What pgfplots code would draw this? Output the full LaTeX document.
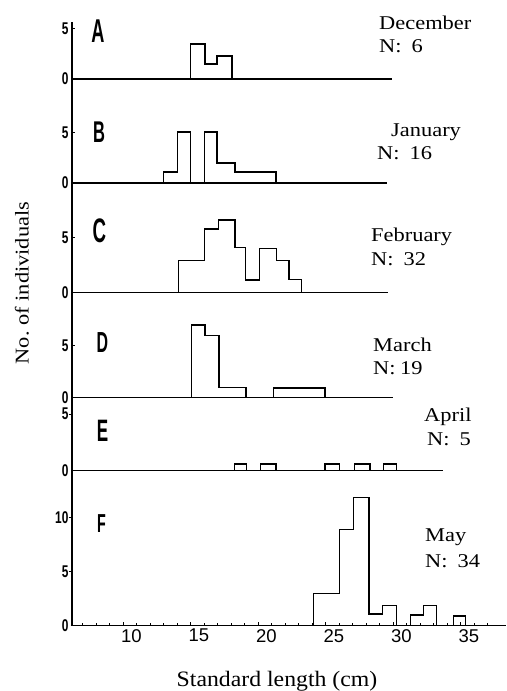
\documentclass[border=0pt]{standalone}
\usepackage{fontspec}
\setmainfont{Liberation Serif}
\newfontfamily\sansf{Liberation Sans}
\usepackage{pgfplots}
\pgfplotsset{compat=1.18}
\newcommand\mon[1]{\fontsize{19.5}{19.5}\selectfont\scalebox{1.15}[1]{#1}}
\newcommand\plet[2]{\fontsize{#2}{#2}\sansf\bfseries\scalebox{0.55}[1]{#1}}
\pgfplotsset{
  panel/.style={x=13.5pt, xmin=6.1, xmax=38.36, scale only axis, anchor=south west,
    axis lines=left, axis line style={-, line width=1.3pt, black},
    x axis line style={draw=none}, y axis line style={draw=none}, xtick=\empty,
    tick align=inside, major tick length=4pt, minor tick length=2.5pt,
    tick style={line width=1pt, black}, ytick style={draw=none},
    ytick={0,5}, /pgf/number format/assume math mode=true,
    yticklabel style={font=\fontsize{17}{17}\sansf\bfseries, inner sep=2pt},
    yticklabel={\scalebox{0.7}[1]{\pgfmathprintnumber{\tick}}},
    clip=false},
  hbar/.style={black, line width=1.3pt, no markers, line join=miter},
  vax/.style={black, line width=1.6pt, no markers},
  ytk/.style={black, line width=1pt, no markers},
}
\begin{document}
\begin{tikzpicture}
\path (0,0) rectangle (506pt,691pt);
% A December
\begin{axis}[panel, y=10pt, ymin=-2.1, ymax=5.7, at={(70.65pt,591pt)}]
\addplot[vax] coordinates {(6.2,-2.1) (6.2,5.7)};
\addplot[hbar] coordinates {(6.2,0) (29.9,0)};
\addplot[ytk] coordinates {(6.2,5) (6.45,5)};
\addplot[hbar] coordinates {(15.0,0) (15.0,3.5) (16.05,3.5) (16.05,1.5) (16.95,1.5) (16.95,2.3) (18.05,2.3) (18.05,0)};
\end{axis}
% B January
\begin{axis}[panel, y=10pt, ymin=-2.2, ymax=8.3, at={(70.65pt,486pt)}]
\addplot[vax] coordinates {(6.2,-2.2) (6.2,8.3)};
\addplot[hbar] coordinates {(6.2,0) (29.5,0)};
\addplot[ytk] coordinates {(6.2,5) (6.45,5)};
\addplot[hbar] coordinates {(13.0,0) (13.0,1.1) (14.0,1.1) (14.0,5.1) (15.0,5.1) (15.0,0)};
\addplot[hbar] coordinates {(16.0,0) (16.0,5.1) (16.95,5.1) (16.95,2.0) (18.27,2.0) (18.27,1.1) (21.3,1.1) (21.3,0)};
\end{axis}
% C February
\begin{axis}[panel, y=11pt, ymin=-1.573, ymax=7.973, at={(70.65pt,381pt)}]
\addplot[vax] coordinates {(6.2,-1.573) (6.2,7.973)};
\addplot[hbar] coordinates {(6.2,0) (29.6,0)};
\addplot[ytk] coordinates {(6.2,5) (6.45,5)};
\addplot[hbar] coordinates {(14.07,0) (14.07,2.9) (16.0,2.9) (16.0,5.8) (17.04,5.8) (17.04,6.6) (18.27,6.6) (18.27,4.1) (19.07,4.1) (19.07,1.15) (20.07,1.15) (20.07,4.0) (21.36,4.0) (21.36,2.9) (22.27,2.9) (22.27,1.2) (23.21,1.2) (23.21,0)};
\end{axis}
% D March
\begin{axis}[panel, y=10.4pt, ymin=-0.702, ymax=8.433, at={(70.65pt,286pt)}]
\addplot[vax] coordinates {(6.2,-0.702) (6.2,8.433)};
\addplot[hbar] coordinates {(6.2,0) (30.0,0)};
\addplot[ytk] coordinates {(6.2,5) (6.45,5)};
\addplot[hbar] coordinates {(15.07,0) (15.07,7.0) (16.05,7.0) (16.05,6.0) (17.09,6.0) (17.09,0.96) (19.09,0.96) (19.09,0)};
\addplot[hbar] coordinates {(21.11,0) (21.11,0.93) (24.94,0.93) (24.94,0)};
\end{axis}
% E April
\begin{axis}[panel, y=11.3pt, ymin=-0.823, ymax=5.814, at={(70.65pt,211pt)}]
\addplot[vax] coordinates {(6.2,-0.823) (6.2,5.814)};
\addplot[hbar] coordinates {(6.2,0) (33.66,0)};
\addplot[ytk] coordinates {(5.95,5) (6.2,5)};
\addplot[hbar] coordinates {(18.22,0) (18.22,0.6) (19.14,0.6) (19.14,0)};
\addplot[hbar] coordinates {(20.18,0) (20.18,0.6) (21.31,0.6) (21.31,0)};
\addplot[hbar] coordinates {(24.94,0) (24.94,0.6) (26.04,0.6) (26.04,0)};
\addplot[hbar] coordinates {(27.11,0) (27.11,0.6) (28.27,0.6) (28.27,0)};
\addplot[hbar] coordinates {(29.26,0) (29.26,0.6) (30.25,0.6) (30.25,0)};
\end{axis}
% F May
\begin{axis}[panel, y=10.8pt, ymin=0, ymax=13.49, at={(70.65pt,65.3pt)},
  x axis line style={draw=black}, xtick={10,15,...,35}, minor xtick={7,...,37}, ytick={0,5,10},
  xtick style={draw=black},
  xticklabel style={font=\fontsize{18.5}{18.5}\sansf, xshift=8pt},
  xticklabel={\pgfmathprintnumber{\tick}}]
\addplot[vax] coordinates {(6.2,0) (6.2,13.49)};
\addplot[ytk] coordinates {(5.95,5) (6.2,5)};
\addplot[ytk] coordinates {(5.95,10) (6.2,10)};
\addplot[hbar] coordinates {(24.07,0) (24.07,3) (26.0,3) (26.0,8.9) (27.04,8.9) (27.04,11.85) (28.2,11.85) (28.2,1.08) (29.19,1.08) (29.19,1.9) (30.25,1.9) (30.25,0)};
\addplot[hbar] coordinates {(31.29,0) (31.29,1) (32.22,1) (32.22,1.9) (33.21,1.9) (33.21,0)};
\addplot[hbar] coordinates {(34.44,0) (34.44,0.9) (35.36,0.9) (35.36,0)};
\end{axis}
% common left axis line of the stacked panels
\draw[line width=1.8pt, black] (72pt,65.3pt) -- (72pt,669pt);
% panel letters
\node[inner sep=0] at (98pt,659.5pt) {\plet{A}{33}};
\node[inner sep=0] at (99pt,558.5pt) {\plet{B}{30}};
\node[inner sep=0] at (99.5pt,460.5pt) {\plet{C}{34}};
\node[inner sep=0] at (102.5pt,348pt) {\plet{D}{29}};
\node[inner sep=0] at (102.5pt,260pt) {\plet{E}{31}};
\node[inner sep=0] at (101.5pt,167pt) {\plet{F}{26}};
% month labels
\node[anchor=base west, inner sep=0] at (379pt,661pt) {\mon{December}};
\node[anchor=base west, inner sep=0] at (379pt,638pt) {\mon{N:\hspace{0.45em}6}};
\node[anchor=base west, inner sep=0] at (391pt,554.3pt) {\mon{January}};
\node[anchor=base west, inner sep=0] at (377pt,531pt) {\mon{N:\hspace{0.45em}16}};
\node[anchor=base west, inner sep=0] at (371pt,449pt) {\mon{February}};
\node[anchor=base west, inner sep=0] at (371pt,425pt) {\mon{N:\hspace{0.45em}32}};
\node[anchor=base west, inner sep=0] at (373pt,339.3pt) {\mon{March}};
\node[anchor=base west, inner sep=0] at (373pt,316pt) {\mon{N:\hspace{0.2em}19}};
\node[anchor=base west, inner sep=0] at (424pt,269.3pt) {\mon{April}};
\node[anchor=base west, inner sep=0] at (427pt,245pt) {\mon{N:\hspace{0.45em}5}};
\node[anchor=base west, inner sep=0] at (425pt,149.3pt) {\mon{May}};
\node[anchor=base west, inner sep=0] at (425pt,123pt) {\mon{N:\hspace{0.45em}34}};
% axis titles
\node[rotate=90, inner sep=0] at (22pt,408pt) {\mon{No.\ of individuals}};
\node[anchor=base, inner sep=0] at (277pt,5pt) {\fontsize{22}{22}\selectfont\scalebox{1.08}[1]{Standard length (cm)}};
\end{tikzpicture}
\end{document}
